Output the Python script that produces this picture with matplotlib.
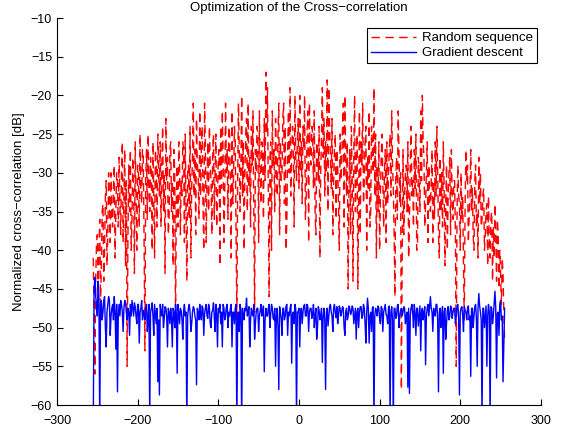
import numpy as np
import matplotlib
matplotlib.use("Agg")
import matplotlib.pyplot as plt

plt.rcParams['font.family'] = ['Liberation Sans', 'DejaVu Sans']

# lag axis of the correlation
lags = np.arange(-255, 256)

# cross-correlation of the random sequence [dB]
random_seq = [
    -41, -48, -56, -44, -39, -38, -45, -40, -36, -47, -42, -35, -34, -44, -40, -33, -31, -42, -38, -30, -33, -39, -30, -36, -37, -32, -29, -41, -35, -30, -31, -37,
    -28, -34, -38, -30, -26, -39, -33, -27, -42, -31, -55, -38, -29, -35, -27, -40, -36, -28, -31, -43, -26, -33, -40, -29, -30, -37, -25, -32, -34, -27, -28, -39,
    -53, -31, -27, -36, -25, -32, -35, -28, -30, -40, -26, -34, -41, -27, -29, -37, -25, -30, -33, -26, -37, -29, -24, -35, -30, -43, -23, -31, -28, -38, -36, -27,
    -26, -35, -31, -42, -27, -30, -50, -33, -29, -37, -26, -29, -38, -31, -33, -26, -27, -39, -25, -34, -44, -30, -29, -36, -24, -41, -32, -28, -21, -33, -27, -38,
    -23, -29, -30, -36, -22, -33, -27, -24, -34, -40, -21, -27, -39, -31, -26, -35, -24, -29, -31, -38, -28, -25, -36, -30, -25, -37, -33, -28, -27, -42, -24, -32,
    -22, -28, -39, -33, -21, -30, -27, -36, -24, -25, -32, -41, -22, -34, -30, -24, -26, -38, -49, -31, -21, -27, -35, -29, -20, -33, -26, -40, -30, -25, -23, -35,
    -21, -32, -28, -37, -24, -29, -22, -35, -48, -27, -30, -24, -25, -39, -22, -30, -34, -26, -27, -36, -23, -31, -17, -25, -19, -33, -46, -28, -26, -40, -22, -29,
    -27, -35, -23, -29, -33, -25, -21, -38, -26, -31, -30, -23, -21, -34, -24, -40, -36, -27, -22, -30, -19, -33, -28, -24, -25, -37, -20, -28, -31, -26, -23, -32,
    -20, -30, -26, -34, -24, -27, -20, -36, -33, -25, -22, -39, -21, -28, -29, -24, -25, -32, -22, -35, -38, -26, -27, -31, -24, -41, -30, -25, -19, -28, -23, -33,
    -26, -30, -18, -35, -19, -24, -28, -32, -23, -38, -31, -27, -25, -36, -27, -29, -34, -40, -25, -31, -29, -24, -21, -37, -20, -28, -33, -26, -45, -32, -27, -38,
    -24, -31, -44, -27, -20, -35, -29, -25, -45, -33, -22, -38, -26, -29, -21, -34, -31, -26, -24, -40, -28, -32, -22, -37, -35, -24, -27, -30, -19, -33, -25, -41,
    -29, -35, -26, -40, -33, -28, -25, -31, -37, -30, -27, -39, -26, -34, -30, -27, -25, -33, -22, -29, -32, -38, -46, -31, -28, -36, -22, -27, -34, -30, -58, -41,
    -27, -38, -33, -30, -29, -35, -26, -41, -36, -29, -24, -33, -31, -37, -27, -32, -25, -40, -39, -28, -30, -35, -22, -31, -20, -26, -28, -37, -34, -30, -26, -39,
    -29, -34, -35, -31, -27, -39, -31, -36, -26, -33, -24, -30, -38, -41, -28, -35, -30, -37, -26, -32, -42, -34, -29, -40, -33, -30, -28, -38, -27, -33, -36, -31,
    -31, -38, -55, -35, -29, -33, -34, -40, -30, -36, -33, -42, -49, -34, -27, -31, -29, -39, -36, -33, -27, -35, -32, -38, -40, -31, -29, -37, -35, -41, -28, -34,
    -30, -37, -36, -33, -32, -40, -38, -35, -34, -42, -33, -39, -41, -36, -35, -44, -37, -41, -34, -38, -44, -36, -38, -45, -40, -43, -47, -41, -43, -48, -52,
]

# cross-correlation after gradient descent [dB]
grad_desc = [
    -62, -45, -43.5, -46, -47, -48.5, -44, -46, -63, -47, -46.5, -49, -48, -46.5, -46, -50, -52.5, -48, -47, -46, -46.5, -51, -48.5, -47.5, -47, -49, -46, -48, -52.8, -47, -58.3, -48.5,
    -47, -48.5, -46.5, -47, -48, -50.5, -47.5, -46.5, -46.8, -48, -49, -47.5, -48, -51, -47, -48.5, -46.5, -47.5, -48.5, -46.8, -47.3, -48.5, -49.5, -47, -47, -52, -48, -47.5, -46.5, -49, -47.8, -48.3,
    -49, -47.5, -47, -50.5, -48.5, -47, -62, -48, -47.5, -46.8, -48.5, -51, -47, -48.3, -49.5, -47.5, -57, -49, -58.7, -47, -48, -48.5, -47, -50, -48.8, -47.3, -47.5, -48.5, -52.5, -47.5, -48, -49.5,
    -47.5, -48.8, -52.5, -47.5, -48, -50, -47, -48.3, -55.9, -47, -48, -49.5, -47.5, -47.8, -49, -51.5, -47.8, -47, -48.5, -48, -63, -48.5, -47.5, -47, -48, -50.5, -49.5, -48, -47.3, -47.5, -48.5, -49,
    -57.4, -47.5, -48, -49, -47, -48.3, -49, -47.2, -47.5, -51, -48.2, -47.5, -47, -48.5, -48.8, -47, -47.5, -49.5, -50, -48, -47.8, -46.8, -48.5, -50.5, -47, -48.2, -52.5, -47.5, -48, -47, -49.5, -48,
    -52.5, -47, -47.5, -49, -48.5, -47.3, -47, -50, -48, -48.5, -47.5, -47, -52.5, -48, -48, -49.5, -47.5, -47, -63, -48.5, -48, -50.5, -47, -47.8, -63, -47.5, -48.5, -49, -47.5, -47.8, -46.2, -48.5,
    -48, -47.3, -52.5, -49, -47.5, -48.2, -48.5, -47, -51.5, -49.5, -48, -47.5, -47.5, -50.5, -48.5, -47.8, -47, -48.5, -48, -47.2, -55.7, -49, -47.5, -48.5, -48.5, -47.5, -47, -50, -48.2, -47, -47.5, -48.8,
    -49, -47.5, -55, -48.5, -47.5, -50, -58, -47.3, -48, -48.8, -51, -47.5, -47.5, -49, -48.5, -47.2, -47, -51, -48, -48.5, -47.5, -47, -54.6, -48.3, -48, -49.5, -47, -47.5, -62, -48, -48, -47.5,
    -52.5, -48, -47.5, -49.5, -48, -47.2, -47, -48.5, -48.5, -47, -47.3, -50.5, -48, -47.5, -47.5, -48.8, -48.2, -47, -50, -48.5, -47.5, -51.5, -50, -47.3, -47.8, -49, -48.5, -47.5, -54.5, -48.5, -47.5, -49,
    -58, -48, -47.5, -49.8, -48.5, -47.3, -47, -48, -48.5, -50.5, -47.5, -47, -48, -48.7, -47.3, -49.5, -48.5, -47.2, -47.5, -48.5, -48, -47.3, -47.5, -50, -51, -48, -47.5, -49, -48.5, -47.2, -47.5, -48.3,
    -48, -47.2, -47.5, -49.5, -48.5, -47.5, -51.5, -48, -47.5, -50, -48, -47.3, -47.3, -48.8, -48.5, -47, -47.5, -49.5, -52, -48, -46.2, -47.5, -52, -48.5, -48, -50.5, -47.5, -47.3, -63, -48.5, -47.5, -47.8,
    -48.5, -47.2, -47.5, -48.8, -49.5, -47.3, -47.5, -50.5, -48, -47.5, -47, -48.3, -48.5, -49.5, -47.5, -47.2, -62, -48, -47.3, -49, -63, -47.5, -47.5, -48.8, -48.5, -47.2, -47, -50, -48.5, -47.8, -47.5, -48.5,
    -48, -47.3, -47.5, -49.5, -48.5, -48, -57.7, -47.5, -58.5, -48.5, -47.5, -47, -48, -50, -47, -48.2, -51, -47.5, -47.5, -49.8, -48.5, -47.2, -53, -48, -47.5, -49, -48, -47.3, -54.8, -48.5, -47.5, -47,
    -48.5, -47.2, -46, -47.5, -48, -50.5, -47.5, -48.3, -48.5, -47, -47, -49, -58.3, -48, -47.5, -50, -48.5, -47.3, -55.9, -48, -47.5, -51.5, -49.4, -47.8, -47.3, -49, -48.5, -47.2, -47.5, -48.8, -48, -47.5,
    -47.5, -49.5, -48.5, -47.2, -47, -48.8, -58.7, -48, -47.5, -47.3, -48.5, -50.5, -47.3, -47.8, -48, -49, -47.5, -47.2, -49, -48.5, -56.3, -47.5, -47.5, -50, -48.5, -47.3, -47, -48.8, -55, -47.5, -45.6, -47.2,
    -48, -49, -62, -47.5, -47.5, -50, -48.5, -47.2, -55, -48.5, -47, -48, -62, -47.3, -47.5, -49.5, -48.5, -46.8, -45.3, -47.5, -56.5, -48.2, -48, -51, -47, -46.5, -49, -48.5, -57, -52, -47.5,
]

fig = plt.figure(figsize=(5.67, 4.34), dpi=100)
ax = fig.add_axes([0.1005, 0.0668, 0.8535, 0.8917])

ax.plot(lags, random_seq, color='red', linestyle='--', dashes=(6, 4), lw=1.0,
        label='Random sequence')
ax.plot(lags, grad_desc, color='blue', lw=1.0, label='Gradient descent')

ax.set_xlim(-300, 300)
ax.set_ylim(-60, -10)
ax.set_xticks(np.arange(-300, 301, 100))
ax.set_yticks(np.arange(-60, -9, 5))
ax.tick_params(direction='in', length=4, labelsize=9, width=0.8)
ax.tick_params(axis='x', pad=7)
ax.spines['top'].set_visible(False)
ax.spines['right'].set_visible(False)

ax.set_title('Optimization of the Cross\u2212correlation', fontsize=9.5, pad=5)
ax.set_ylabel('Normalized cross\u2212correlation [dB]', fontsize=9.5, labelpad=4)

leg = ax.legend(loc='upper right', bbox_to_anchor=(0.9917, 0.974), borderaxespad=0,
                fontsize=9.5, fancybox=False, framealpha=1, edgecolor='black',
                handlelength=3.4, handletextpad=0.45, borderpad=0.3, labelspacing=0.2)
leg.get_frame().set_linewidth(0.8)

fig.savefig('out.png', dpi=100)
